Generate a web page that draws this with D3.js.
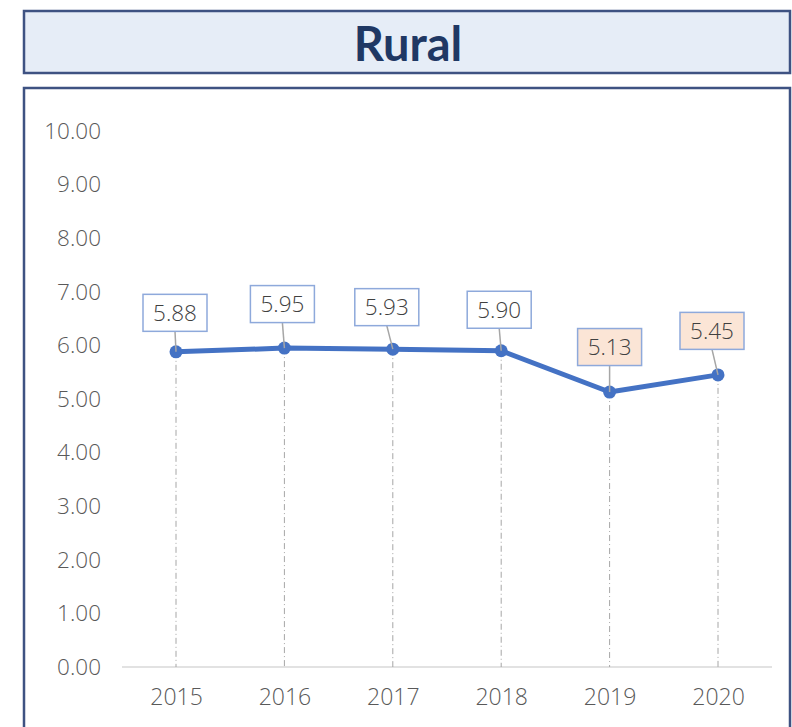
<!DOCTYPE html>
<html><head><meta charset="utf-8">
<script src="https://cdn.jsdelivr.net/npm/d3@7"></script>
<style>body{margin:0;background:#fff}svg{display:block}</style>
</head><body>
<script>
const title = "Rural";
const years = ["2015","2016","2017","2018","2019","2020"];
const values = [5.88,5.95,5.93,5.90,5.13,5.45];
const highlighted = [false,false,false,false,true,true];
const yTicks = [0,1,2,3,4,5,6,7,8,9,10];

const W=792,H=727;
const svg=d3.select("body").append("svg").attr("width",W).attr("height",H);
const font="'Open Sans', Lato, sans-serif";

// title box
svg.append("rect").attr("x",24).attr("y",11).attr("width",766).attr("height",62)
  .attr("fill","#E6EDF7").attr("stroke","#3E5282").attr("stroke-width",2.5);
svg.append("text").attr("x",408).attr("y",43).attr("text-anchor","middle")
  .attr("dominant-baseline","central").attr("font-family","Lato, 'Open Sans', sans-serif")
  .attr("font-weight","bold").attr("font-size",47).attr("fill","#1F3864").text(title);

// chart box
svg.append("rect").attr("x",24).attr("y",88).attr("width",766).attr("height",660)
  .attr("fill","#fff").attr("stroke","#3E5282").attr("stroke-width",2.5);

const x=d3.scalePoint().domain(years).range([176,718]);
const y=d3.scaleLinear().domain([0,10]).range([667,131]);

// y labels
const yAxis=d3.axisLeft(y).tickValues(yTicks).tickFormat(d3.format(".2f")).tickSize(0).tickPadding(0);
const ya=svg.append("g").attr("transform","translate(101,0)").call(yAxis);
ya.select(".domain").remove();
ya.selectAll("text").attr("font-family",font).attr("font-weight",300).attr("font-size",22.5).attr("fill","#595959");

// x axis
svg.append("line").attr("x1",122).attr("x2",772).attr("y1",y(0)).attr("y2",y(0))
  .attr("stroke","#D9D9D9").attr("stroke-width",1.5);
const xAxis=d3.axisBottom(x).tickSize(0).tickPadding(0);
const xa=svg.append("g").attr("transform",`translate(0,${y(0)+31})`).call(xAxis);
xa.select(".domain").remove();
xa.selectAll("text").attr("font-family",font).attr("font-weight",300).attr("font-size",23).attr("fill","#595959")
  .attr("dy","0.32em").attr("y",0);

// drop lines
svg.append("g").selectAll("line").data(values).join("line")
  .attr("x1",(d,i)=>x(years[i])).attr("x2",(d,i)=>x(years[i]))
  .attr("y1",d=>y(d)).attr("y2",y(0))
  .attr("stroke","#A6A6A6").attr("stroke-width",1).attr("stroke-dasharray","6,3,1,3");

// line
svg.append("path").datum(values)
  .attr("d",d3.line().x((d,i)=>x(years[i])).y(d=>y(d)))
  .attr("fill","none").attr("stroke","#4472C4").attr("stroke-width",5).attr("stroke-linejoin","round");
svg.append("g").selectAll("circle").data(values).join("circle")
  .attr("cx",(d,i)=>x(years[i])).attr("cy",d=>y(d)).attr("r",6.5).attr("fill","#4472C4");

// labels (box offsets relative to point)
const off=[[-1,-39],[-2,-44],[-6,-42],[-2,-41],[0,-45],[-6,-44]];
const g=svg.append("g");
values.forEach((v,i)=>{
  const px=x(years[i]), py=y(v);
  const cx=px+off[i][0], cy=py+off[i][1];
  const bw=64,bh=37;
  g.append("line").attr("x1",cx).attr("y1",cy+bh/2).attr("x2",px).attr("y2",py)
    .attr("stroke","#A6A6A6").attr("stroke-width",1.5);
  g.append("rect").attr("x",cx-bw/2).attr("y",cy-bh/2).attr("width",bw).attr("height",bh)
    .attr("fill",highlighted[i]?"#FBE5D6":"#fff").attr("stroke","#8EA9DB").attr("stroke-width",1.5);
  g.append("text").attr("x",cx).attr("y",cy).attr("text-anchor","middle").attr("dy","0.36em")
    .attr("font-family",font).attr("font-weight",300).attr("font-size",22.5).attr("fill","#404040").text(d3.format(".2f")(v));
});
</script>
</body></html>
